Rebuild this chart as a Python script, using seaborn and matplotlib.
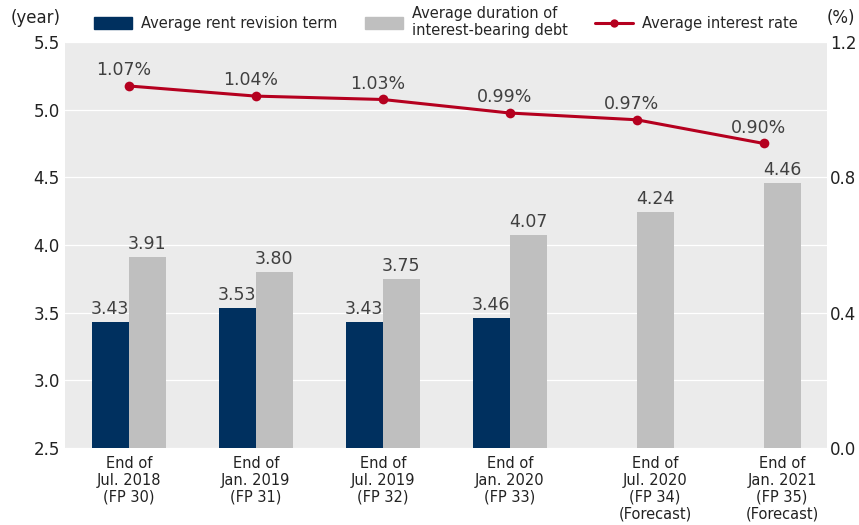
import numpy as np
import pandas as pd
import seaborn as sns
import matplotlib.pyplot as plt
from matplotlib.patches import Patch
from matplotlib.lines import Line2D

periods = ['End of\nJul. 2018\n(FP 30)', 'End of\nJan. 2019\n(FP 31)', 'End of\nJul. 2019\n(FP 32)',
           'End of\nJan. 2020\n(FP 33)', 'End of\nJul. 2020\n(FP 34)\n(Forecast)',
           'End of\nJan. 2021\n(FP 35)\n(Forecast)']
rent_term = [3.43, 3.53, 3.43, 3.46, np.nan, np.nan]
debt_duration = [3.91, 3.80, 3.75, 4.07, 4.24, 4.46]
interest_rate = [1.07, 1.04, 1.03, 0.99, 0.97, 0.90]

NAVY = '#00305f'
GRAY = '#bfbfbf'
RED = '#b5001f'
TXT = '#404040'

sns.set_theme(style='darkgrid', rc={'axes.facecolor': '#ebebeb', 'grid.color': 'white',
                                    'grid.linewidth': 0.9})
plt.rcParams['font.family'] = ['DejaVu Sans']

df = pd.DataFrame({
    'period': periods * 2,
    'series': ['rent'] * 6 + ['debt'] * 6,
    'value': rent_term + debt_duration,
})

fig = plt.figure(figsize=(8.59, 5.25), dpi=100)
ax = fig.add_axes([0.076, 0.147, 0.887, 0.773])
sns.barplot(data=df, x='period', y='value', hue='series', order=periods,
            hue_order=['rent', 'debt'], palette=[NAVY, GRAY], width=0.58,
            dodge=True, ax=ax, legend=False, saturation=1, linewidth=0)
ax.set_ylim(2.5, 5.5)
ax.set_yticks(np.arange(2.5, 5.51, 0.5))
ax.set_yticklabels([f'{v:.1f}' for v in np.arange(2.5, 5.51, 0.5)], fontsize=12, color='#222222')
ax.set_xlim(-0.5, 5.5)
ax.grid(axis='x', visible=False)
ax.set_xlabel('')
ax.set_ylabel('')
ax.tick_params(axis='y', length=0, pad=4)
ax.tick_params(axis='x', length=0, pad=6)

off = 0.145
xt = [i for i in range(4)] + [4 + off, 5 + off]
ax.set_xticks(xt)
ax.set_xticklabels(periods, fontsize=10.5, color='#222222', linespacing=1.15)

for i, v in enumerate(rent_term):
    if not np.isnan(v):
        ax.text(i - off, v + 0.03, f'{v:.2f}', ha='center', va='bottom', fontsize=12.5, color=TXT)
for i, v in enumerate(debt_duration):
    ax.text(i + off, v + 0.03, f'{v:.2f}', ha='center', va='bottom', fontsize=12.5, color=TXT)

ax2 = ax.twinx()
sns.lineplot(x=np.arange(6), y=interest_rate, ax=ax2, color=RED, linewidth=2.2,
             marker='o', markersize=7, markeredgewidth=0)
ax2.set_ylim(0, 1.2)
ax2.set_yticks([0.0, 0.4, 0.8, 1.2])
ax2.set_yticklabels(['0.0', '0.4', '0.8', '1.2'], fontsize=12, color='#222222')
ax2.grid(False)
ax2.tick_params(axis='y', length=0, pad=2)
for i, v in enumerate(interest_rate):
    ax2.text(i - 0.04, v + 0.02, f'{v:.2f}%', ha='center', va='bottom', fontsize=12.5, color=TXT)
for a in (ax, ax2):
    for s in a.spines.values():
        s.set_visible(False)

fig.text(0.012, 0.965, '(year)', fontsize=12, color='#222222', va='center')
fig.text(0.962, 0.965, '(%)', fontsize=12, color='#222222', va='center')

handles = [Patch(color=NAVY), Patch(color=GRAY),
           Line2D([0], [0], color=RED, lw=2.2, marker='o', markersize=6, markeredgewidth=0)]
labels = ['Average rent revision term', 'Average duration of\ninterest-bearing debt',
          'Average interest rate']
fig.legend(handles, labels, loc='center', bbox_to_anchor=(0.519, 0.958), ncol=3, frameon=False,
           fontsize=10.5, handlelength=2.6, handleheight=0.8, columnspacing=1.9,
           handletextpad=0.6, labelspacing=0.05)

fig.savefig('out.png', dpi=100)
